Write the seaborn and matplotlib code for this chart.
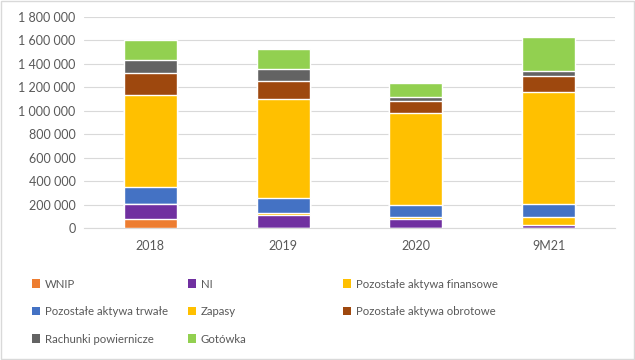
import numpy as np
import pandas as pd
import matplotlib
matplotlib.use('Agg')
import matplotlib.pyplot as plt
import matplotlib.ticker as mticker
from matplotlib.patches import Patch
import seaborn as sns

# ---- data ----
categories = ['2018', '2019', '2020', '9M21']
series_names = ['WNIP', 'NI', 'Pozostałe aktywa finansowe', 'Pozostałe aktywa trwałe',
                'Zapasy', 'Pozostałe aktywa obrotowe', 'Rachunki powiernicze', 'Gotówka']
wnip     = [79000, 0, 0, 0]
ni       = [129000, 113000, 80000, 28000]
paf      = [0, 14000, 12000, 69000]
pat      = [139000, 132000, 107000, 111000]
zapasy   = [784000, 838000, 786000, 949000]
pao      = [188000, 153000, 95000, 136000]
rach     = [111000, 103000, 34000, 43000]
gotowka  = [170000, 171000, 119000, 291000]
colors = ['#ED7D31', '#7030A0', '#FFC000', '#4472C4',
          '#FFC000', '#9E480E', '#636363', '#92D050']

series = [wnip, ni, paf, pat, zapasy, pao, rach, gotowka]

sns.set_style('white')
plt.rcParams['font.family'] = ['Lato', 'DejaVu Sans']

fig = plt.figure(figsize=(6.35, 3.6), dpi=100)
ax = fig.add_axes([84/635, 1 - 228/360, 531/635, 211/360])

cum = np.cumsum(np.array(series, dtype=float), axis=0)
# draw from the top of the stack down so lower segments cover upper ones
for i in range(len(series) - 1, -1, -1):
    df = pd.DataFrame({'cat': categories, 'val': cum[i]})
    sns.barplot(data=df, x='cat', y='val', color=colors[i], saturation=1,
                width=0.4, ax=ax, zorder=3)

ax.set_ylim(0, 1800000)
ax.set_xlim(-0.5, 3.5)
ax.yaxis.set_major_locator(mticker.MultipleLocator(200000))
ax.yaxis.set_major_formatter(mticker.FuncFormatter(
    lambda v, p: f'{int(v):,}'.replace(',', ' ')))
ax.grid(axis='y', color='#D9D9D9', linewidth=0.8, zorder=0)
ax.set_axisbelow(True)
for s in ['top', 'right', 'left']:
    ax.spines[s].set_visible(False)
ax.spines['bottom'].set_color('#D9D9D9')
ax.tick_params(axis='both', length=0, labelsize=9, colors='#595959', pad=6)
ax.tick_params(axis='x', pad=9)
ax.set_xlabel('')
ax.set_ylabel('')

# legend, laid out row by row in three fixed columns
handles = [Patch(facecolor=c, edgecolor='none') for c in colors]
col_x = [27/635, 183/635, 338/635]
for c in range(3):
    idx = [k for k in range(c, len(series_names), 3)]
    fig.legend([handles[k] for k in idx], [series_names[k] for k in idx],
               loc='upper left', bbox_to_anchor=(col_x[c], 1 - 274/360),
               frameon=False, fontsize=8.2, labelcolor='#595959',
               handlelength=0.75, handleheight=0.75, handletextpad=0.4,
               labelspacing=1.45, borderaxespad=0)

fig.patches.append(plt.Rectangle((0.001, 0.002), 0.997, 0.995, transform=fig.transFigure,
                                 fill=False, edgecolor='#D9D9D9', linewidth=1))
fig.savefig('out.png', dpi=100, facecolor='white')
